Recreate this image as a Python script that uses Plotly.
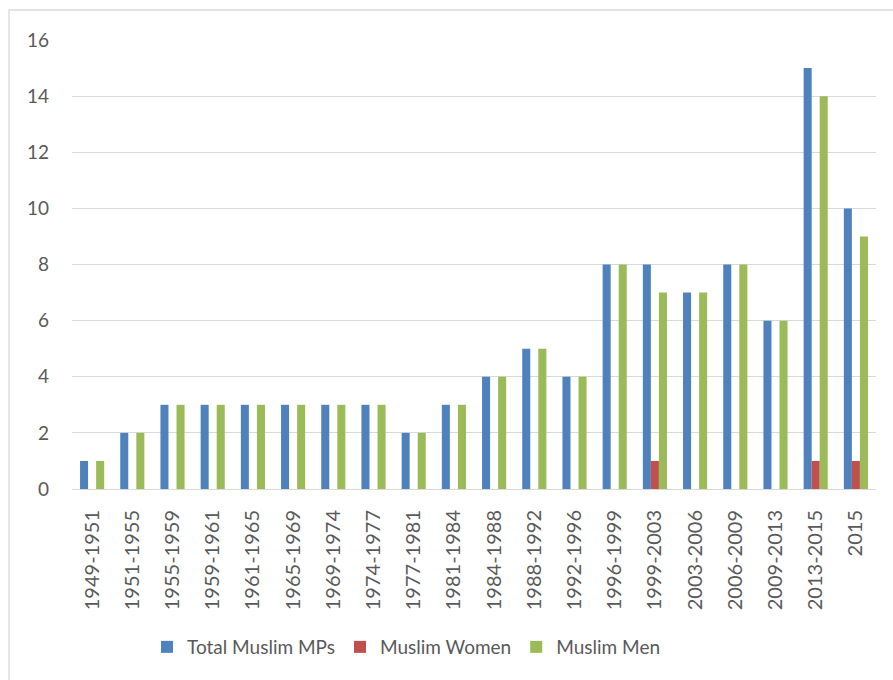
import plotly.graph_objects as go

# Parliamentary terms
terms = [
    "1949-1951", "1951-1955", "1955-1959", "1959-1961", "1961-1965",
    "1965-1969", "1969-1974", "1974-1977", "1977-1981", "1981-1984",
    "1984-1988", "1988-1992", "1992-1996", "1996-1999", "1999-2003",
    "2003-2006", "2006-2009", "2009-2013", "2013-2015", "2015",
]

# Number of Muslim MPs per term
total_mps = [1, 2, 3, 3, 3, 3, 3, 3, 2, 3, 4, 5, 4, 8, 8, 7, 8, 6, 15, 10]
women_mps = [0, 0, 0, 0, 0, 0, 0, 0, 0, 0, 0, 0, 0, 0, 1, 0, 0, 0, 1, 1]
men_mps = [1, 2, 3, 3, 3, 3, 3, 3, 2, 3, 4, 5, 4, 8, 7, 7, 8, 6, 14, 9]

FONT = "Lato"
TEXT = "#595959"
GRID = "#d9d9d9"

fig = go.Figure()
fig.add_trace(go.Bar(x=terms, y=total_mps, name="Total Muslim MPs",
                     marker=dict(color="#4F81BD", line=dict(width=0))))
fig.add_trace(go.Bar(x=terms, y=women_mps, name="Muslim Women",
                     marker=dict(color="#C0504D", line=dict(width=0))))
fig.add_trace(go.Bar(x=terms, y=men_mps, name="Muslim Men",
                     marker=dict(color="#9BBB59", line=dict(width=0))))

L, R, T, B = 72, 17, 40, 191
W, H = 893, 680
pw, ph = W - L - R, H - T - B

fig.update_layout(
    width=W, height=H,
    margin=dict(l=L, r=R, t=T, b=B, pad=0),
    paper_bgcolor="white", plot_bgcolor="white",
    barmode="group", bargap=0.4, bargroupgap=0,
    font=dict(family=FONT, color=TEXT, size=19),
    showlegend=True,
    legend=dict(
        orientation="h", x=(147 - L) / pw, xanchor="left",
        y=(H - B - 647) / ph, yanchor="middle",
        font=dict(family=FONT, size=19, color=TEXT),
        bgcolor="rgba(0,0,0,0)", traceorder="normal",
    ),
    xaxis=dict(
        type="category", tickangle=-90, tickfont=dict(size=20),
        showgrid=False, showline=True, linecolor=GRID, linewidth=1,
        ticks="", ticklabelstandoff=12,
    ),
    yaxis=dict(
        range=[0, 16], dtick=2, tickfont=dict(size=19),
        showgrid=True, gridcolor=GRID, gridwidth=1,
        zeroline=True, zerolinecolor=GRID, zerolinewidth=1,
        showline=False, ticks="", ticklabelstandoff=22,
    ),
    shapes=[dict(
        type="rect", xref="paper", yref="paper",
        x0=(9 - L) / pw, x1=(W + 20 - L) / pw,
        y0=(H - B - (H + 20)) / ph, y1=(H - B - 10) / ph,
        line=dict(color=GRID, width=1.3), fillcolor="rgba(0,0,0,0)",
        layer="below",
    )],
)

fig.write_html("out.html")
